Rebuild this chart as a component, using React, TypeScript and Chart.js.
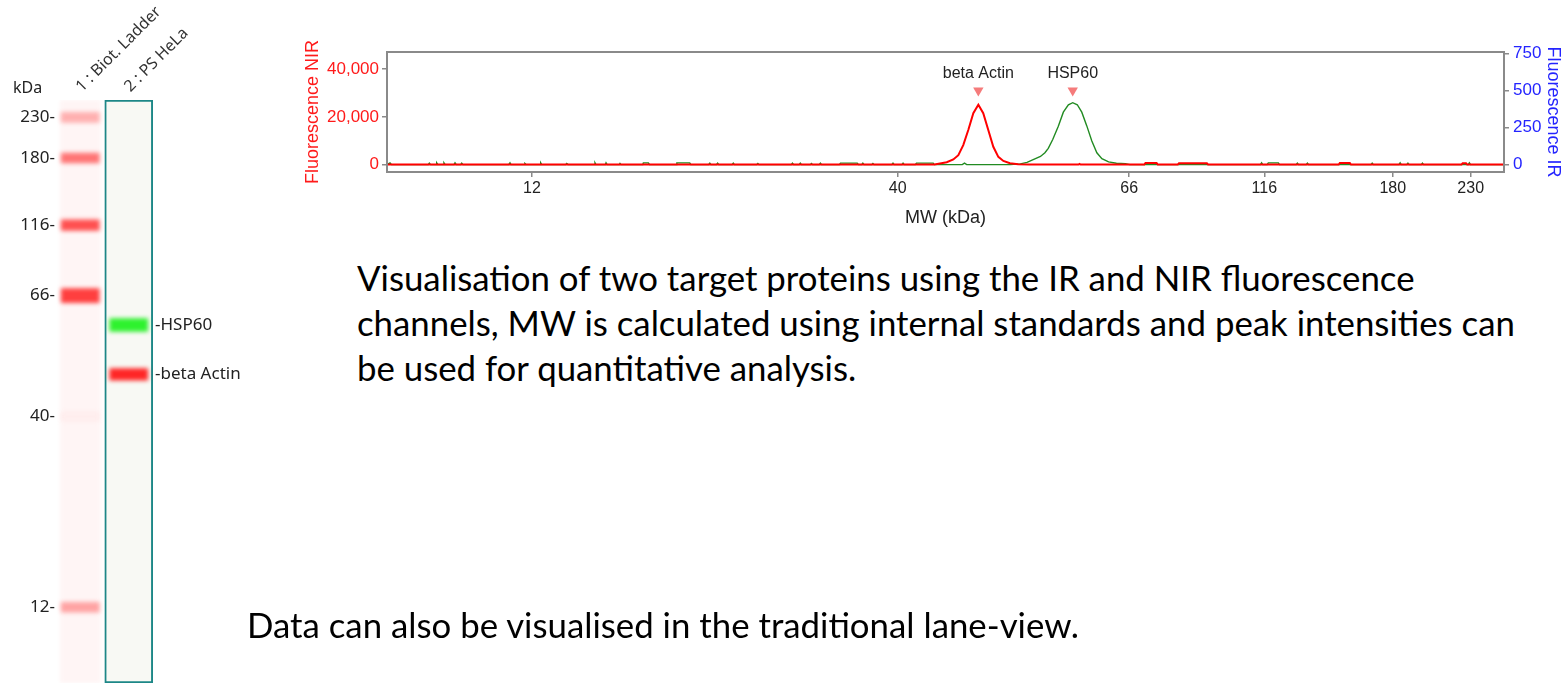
import React, { useEffect, useRef } from "react";
import { Chart, registerables } from "chart.js";

Chart.register(...registerables);

// ---------- shared MW calibration (migration position, 0..100) ----------
const mwLabels = ["12", "40", "66", "116", "180", "230"];
const mwPositions = [12.98, 45.72, 66.45, 78.54, 90.04, 97.02];

// ---------- electropherogram traces ----------
const nirX = [
  0, 49.0, 49.51, 50.11, 50.7, 51.15, 51.59, 52.04, 52.49, 52.94, 53.38, 53.83, 54.28, 54.73,
  55.18, 55.77, 56.5, 57.5, 61.9, 62.0, 62.1, 67.8, 67.9, 68.9, 69.0, 70.8, 70.9, 73.4, 73.5,
  85.2, 85.3, 86.2, 86.3, 96.2, 96.3, 96.6, 96.7, 100,
];
const nirY = [
  0, 0, 420, 970, 2110, 3930, 8160, 14500, 21560, 25070, 21560, 14500, 7440, 3210,
  1520, 550, 150, 0, 0, 300, 0, 0, 600, 600, 0, 0, 500, 500, 0,
  0, 600, 600, 0, 0, 500, 500, 0, 0,
];

const irX = [
  0, 0.27, 0.4, 3.7, 3.79, 3.9, 4.4, 4.45, 4.55, 5.05, 5.1, 5.2, 6.0, 6.09, 6.2, 6.6, 6.69, 6.8,
  10.9, 11.01, 11.1, 12.3, 12.35, 12.45, 13.7, 13.76, 13.85, 16.0, 16.09, 16.2, 18.55, 18.62, 18.7,
  19.55, 19.61, 19.7, 20.8, 20.86, 20.95, 22.9, 22.95, 23.4, 23.5, 25.9, 25.95, 27.1, 27.2,
  28.8, 28.9, 29.0, 29.5, 29.6, 29.7, 30.9, 31.0, 31.1, 33.1, 33.2, 33.3, 36.2, 36.3, 36.4,
  36.9, 37.0, 37.1, 37.9, 38.0, 38.1, 38.7, 38.8, 38.9, 40.5, 40.6, 42.1, 42.2, 42.5, 42.6, 42.7,
  43.4, 43.5, 43.6, 45.2, 45.3, 45.4, 46.1, 46.2, 46.3, 47.3, 47.4, 48.9, 49.0,
  51.5, 51.7, 51.9, 55.8, 56.7, 57.3, 57.9, 58.5, 58.9, 59.2, 59.6, 60.1, 60.55, 61.0, 61.39,
  61.8, 62.2, 62.65, 63.1, 63.55, 64.0, 64.6, 65.3, 66.1, 66.5,
  78.2, 78.3, 78.4, 78.8, 78.9, 79.8, 79.9, 81.4, 81.5, 81.6, 82.3, 82.4, 82.5, 88.1, 88.2, 88.3,
  90.6, 90.7, 90.8, 91.3, 91.4, 91.5, 92.6, 92.7, 92.8, 96.8, 96.9, 97.0, 100,
];
const irY = [
  0, 12, 0, 0, 10, 0, 0, 12, 0, 0, 12, 0, 0, 12, 0, 0, 10, 0,
  0, 12, 0, 0, 8, 0, 0, 12, 0, 0, 8, 0, 0, 12, 0,
  0, 12, 0, 0, 8, 0, 0, 12, 12, 0, 0, 12, 12, 0,
  0, 10, 0, 0, 10, 0, 0, 10, 0, 0, 8, 0, 0, 10, 0,
  0, 10, 0, 0, 8, 0, 0, 10, 0, 0, 10, 10, 0, 0, 10, 0,
  0, 8, 0, 0, 10, 0, 0, 10, 0, 0, 10, 10, 0,
  0, 10, 0, 0, 5, 15, 35, 55, 80, 110, 170, 260, 355, 405, 419,
  405, 355, 262, 160, 80, 40, 18, 9, 6, 0,
  0, 12, 0, 0, 12, 12, 0, 0, 10, 0, 0, 10, 0, 0, 10, 0,
  0, 12, 0, 0, 10, 0, 0, 10, 0, 0, 12, 0, 0,
];

const peakNames = ["beta Actin", "HSP60"];
const peakPositions = [52.94, 61.39];
const peakMarkerNIR = [31000, 31000];
const nirTicks = [0, 20000, 40000];
const irTicks = [0, 250, 500, 750];

// ---------- lane view ----------
const laneNames = ["1 : Biot. Ladder", "2 : PS HeLa"];
const ladderColors = ["#ffa3a3", "#ffeded", "#ff3f3f", "#ff5050", "#ff7575", "#ffb0b0"];
const ladderHalfHeights = [0.85, 0.85, 1.2, 0.9, 0.85, 0.85];
const sampleBandNames = ["beta Actin", "HSP60"];
const sampleBandPositions = [52.94, 61.39];
const sampleBandColors = ["#ff2626", "#2ef22e"];
const sampleHalfHeights = [1.0, 1.1];

const TRACE_FONT = "'Liberation Sans', Arial, sans-serif";
const LANE_FONT = "'Noto Sans', 'Open Sans', sans-serif";
const AXIS_GRAY = "#8a8a8a";

const boxPlugin = {
  id: "plotBox",
  afterDraw(chart: any) {
    const { ctx, chartArea: a } = chart;
    ctx.save();
    ctx.strokeStyle = AXIS_GRAY;
    ctx.lineWidth = 2;
    ctx.strokeRect(a.left, a.top, a.right - a.left, a.bottom - a.top);
    ctx.restore();
  },
};

const peakLabelPlugin = {
  id: "peakLabels",
  afterDatasetsDraw(chart: any) {
    const idx = chart.data.datasets.findIndex((d: any) => d.peakLabels);
    if (idx < 0) return;
    const meta = chart.getDatasetMeta(idx);
    const ctx = chart.ctx;
    ctx.save();
    ctx.font = `16px ${TRACE_FONT}`;
    ctx.fillStyle = "#222";
    ctx.textAlign = "center";
    ctx.textBaseline = "middle";
    meta.data.forEach((el: any, i: number) => {
      ctx.fillText(peakNames[i], el.x, el.y - 17);
    });
    ctx.restore();
  },
};

const blurPlugin = {
  id: "bandBlur",
  beforeDatasetDraw(chart: any, args: any) {
    const ds = chart.data.datasets[args.index];
    if (ds.blur) {
      chart.ctx.save();
      chart.ctx.filter = `blur(${ds.blur}px)`;
    }
  },
  afterDatasetDraw(chart: any, args: any) {
    const ds = chart.data.datasets[args.index];
    if (ds.blur) chart.ctx.restore();
  },
};

const kdaPlugin = {
  id: "kdaLabel",
  afterDraw(chart: any) {
    const { ctx, chartArea: a } = chart;
    ctx.save();
    ctx.font = `16px ${LANE_FONT}`;
    ctx.fillStyle = "#222";
    ctx.textAlign = "left";
    ctx.textBaseline = "middle";
    ctx.fillText("kDa", a.left - 43, a.top - 12);
    ctx.restore();
  },
};

function fixSize(w?: number, h?: number) {
  return (scale: any) => {
    if (w !== undefined) scale.width = w;
    if (h !== undefined) scale.height = h;
    scale.paddingTop = 0;
    scale.paddingBottom = 0;
    scale.paddingLeft = 0;
    scale.paddingRight = 0;
  };
}

function TraceChart() {
  const ref = useRef<HTMLCanvasElement>(null);
  useEffect(() => {
    const tickGrid = {
      drawOnChartArea: false,
      drawTicks: true,
      tickLength: 5,
      color: AXIS_GRAY,
      lineWidth: 1.5,
    };
    const chart = new Chart(ref.current!, {
      type: "line",
      data: {
        datasets: [
          {
            type: "scatter",
            label: "peaks",
            data: peakPositions.map((x, i) => ({ x, y: peakMarkerNIR[i] })),
            pointStyle: "triangle",
            rotation: 180,
            pointRadius: 6,
            backgroundColor: "#f57b7b",
            borderColor: "#f57b7b",
            borderWidth: 0,
            yAxisID: "y",
            order: 0,
            peakLabels: true,
          } as any,
          {
            label: "NIR",
            data: nirX.map((x, i) => ({ x, y: nirY[i] })),
            borderColor: "#ff0000",
            borderWidth: 2,
            pointRadius: 0,
            tension: 0,
            yAxisID: "y",
            order: 1,
          },
          {
            label: "IR",
            data: irX.map((x, i) => ({ x, y: irY[i] })),
            borderColor: "#228b22",
            borderWidth: 1.4,
            pointRadius: 0,
            tension: 0,
            yAxisID: "y1",
            order: 2,
          },
        ],
      },
      options: {
        animation: false,
        responsive: false,
        events: [],
        layout: { padding: { top: 22, left: 0, right: 0, bottom: 0 } },
        plugins: { legend: { display: false }, tooltip: { enabled: false } },
        scales: {
          x: {
            type: "linear",
            min: 0,
            max: 100,
            afterBuildTicks: (s: any) => {
              s.ticks = mwPositions.map((v) => ({ value: v }));
            },
            afterFit: fixSize(undefined, 68),
            ticks: {
              callback: (_v: any, i: number) => mwLabels[i],
              color: "#222",
              font: { family: TRACE_FONT, size: 16 },
              padding: 2,
              maxRotation: 0,
              autoSkip: false,
            },
            grid: tickGrid,
            border: { display: false },
            title: {
              display: true,
              text: "MW (kDa)",
              color: "#222",
              font: { family: TRACE_FONT, size: 18 },
              padding: { top: 0, bottom: 11 },
            },
          },
          y: {
            type: "linear",
            position: "left",
            min: -3130,
            max: 47190,
            afterBuildTicks: (s: any) => {
              s.ticks = nirTicks.map((v) => ({ value: v }));
            },
            afterFit: fixSize(97),
            ticks: {
              callback: (v: any) => Number(v).toLocaleString("en-US"),
              color: "#ff1a1a",
              font: { family: TRACE_FONT, size: 17 },
              padding: 3,
            },
            grid: tickGrid,
            border: { display: false },
            title: {
              display: true,
              text: "Fluorescence NIR",
              color: "#ff1a1a",
              font: { family: TRACE_FONT, size: 18 },
              padding: { top: 12, bottom: 0 },
            },
          },
          y1: {
            type: "linear",
            position: "right",
            min: -50,
            max: 762,
            afterBuildTicks: (s: any) => {
              s.ticks = irTicks.map((v) => ({ value: v }));
            },
            afterFit: fixSize(63),
            ticks: {
              color: "#2424ff",
              font: { family: TRACE_FONT, size: 17 },
              padding: 4,
            },
            grid: tickGrid,
            border: { display: false },
            title: {
              display: true,
              text: "Fluorescence IR",
              color: "#2424ff",
              font: { family: TRACE_FONT, size: 18 },
              padding: { top: 3, bottom: 0 },
            },
          },
        },
      } as any,
      plugins: [boxPlugin, peakLabelPlugin],
    });
    return () => chart.destroy();
  }, []);
  return (
    <canvas
      ref={ref}
      width={1277}
      height={210}
      style={{ position: "absolute", left: 290, top: 30, width: 1277, height: 210 }}
    />
  );
}

function LaneChart() {
  const ref = useRef<HTMLCanvasElement>(null);
  useEffect(() => {
    const datasets: any[] = [];
    datasets.push({
      label: "lane2",
      data: [{ x: laneNames[1], y: [0, 100] }],
      backgroundColor: "#f8f9f4",
      borderColor: "#1d8787",
      borderWidth: 2,
      borderSkipped: false,
      barThickness: 48,
      grouped: false,
      order: 10,
    });
    datasets.push({
      label: "ladderLane",
      data: [{ x: laneNames[0], y: [0, 100] }],
      backgroundColor: "#fff5f5",
      borderWidth: 0,
      barThickness: 40,
      grouped: false,
      blur: 2,
      order: 9,
    });
    mwPositions.forEach((p, i) => {
      datasets.push({
        label: "ladder " + mwLabels[i],
        data: [{ x: laneNames[0], y: [p - ladderHalfHeights[i], p + ladderHalfHeights[i]] }],
        backgroundColor: ladderColors[i],
        borderWidth: 0,
        barThickness: 38,
        grouped: false,
        blur: 2,
        order: 1,
      });
    });
    sampleBandPositions.forEach((p, i) => {
      datasets.push({
        label: sampleBandNames[i],
        data: [{ x: laneNames[1], y: [p - sampleHalfHeights[i], p + sampleHalfHeights[i]] }],
        backgroundColor: sampleBandColors[i],
        borderWidth: 0,
        barThickness: 38,
        grouped: false,
        blur: 2,
        order: 1,
      });
    });
    const chart = new Chart(ref.current!, {
      type: "bar",
      data: { labels: laneNames, datasets },
      options: {
        animation: false,
        responsive: false,
        events: [],
        layout: { padding: { top: 0, left: 0, right: 0, bottom: 17 } },
        plugins: { legend: { display: false }, tooltip: { enabled: false } },
        scales: {
          x: {
            type: "category",
            position: "top",
            offset: true,
            afterFit: fixSize(undefined, 100),
            ticks: {
              minRotation: 45,
              maxRotation: 45,
              color: "#333",
              font: { family: LANE_FONT, size: 16 },
              padding: 4,
              labelOffset: 12,
              autoSkip: false,
            },
            grid: { display: false, drawTicks: false },
            border: { display: false },
          },
          y: {
            type: "linear",
            position: "left",
            min: 0,
            max: 100,
            afterBuildTicks: (s: any) => {
              s.ticks = mwPositions.map((v) => ({ value: v }));
            },
            afterFit: fixSize(56),
            ticks: {
              callback: (_v: any, i: number) => mwLabels[i] + "-",
              color: "#222",
              font: { family: LANE_FONT, size: 17 },
              padding: 1,
            },
            grid: { display: false, drawTicks: false },
            border: { display: false },
          },
          y2: {
            type: "linear",
            position: "right",
            min: 0,
            max: 100,
            afterBuildTicks: (s: any) => {
              s.ticks = sampleBandPositions.map((v) => ({ value: v }));
            },
            afterFit: fixSize(107),
            ticks: {
              callback: (_v: any, i: number) => "-" + sampleBandNames[i],
              color: "#222",
              font: { family: LANE_FONT, size: 17 },
              padding: 2,
            },
            grid: { display: false, drawTicks: false },
            border: { display: false },
          },
        },
      } as any,
      plugins: [blurPlugin, kdaPlugin],
    });
    return () => chart.destroy();
  }, []);
  return (
    <canvas
      ref={ref}
      width={260}
      height={700}
      style={{ position: "absolute", left: 0, top: 0, width: 260, height: 700 }}
    />
  );
}

const textStyle: React.CSSProperties = {
  position: "absolute",
  fontFamily: "Lato, 'Open Sans', sans-serif",
  fontSize: 34.8,
  lineHeight: "45px",
  color: "#000",
  whiteSpace: "nowrap",
  margin: 0,
};

export default function App() {
  return (
    <div
      style={{
        position: "absolute",
        left: 0,
        top: 0,
        width: 1567,
        height: 700,
        overflow: "hidden",
        background: "#fff",
      }}
    >
      <LaneChart />
      <TraceChart />
      <div style={{ ...textStyle, left: 357, top: 255 }}>
        Visualisation of two target proteins using the IR and NIR fluorescence
        <br />
        channels, MW is calculated using internal standards and peak intensities can
        <br />
        be used for quantitative analysis.
      </div>
      <div style={{ ...textStyle, left: 247, top: 602 }}>
        Data can also be visualised in the traditional lane-view.
      </div>
    </div>
  );
}
